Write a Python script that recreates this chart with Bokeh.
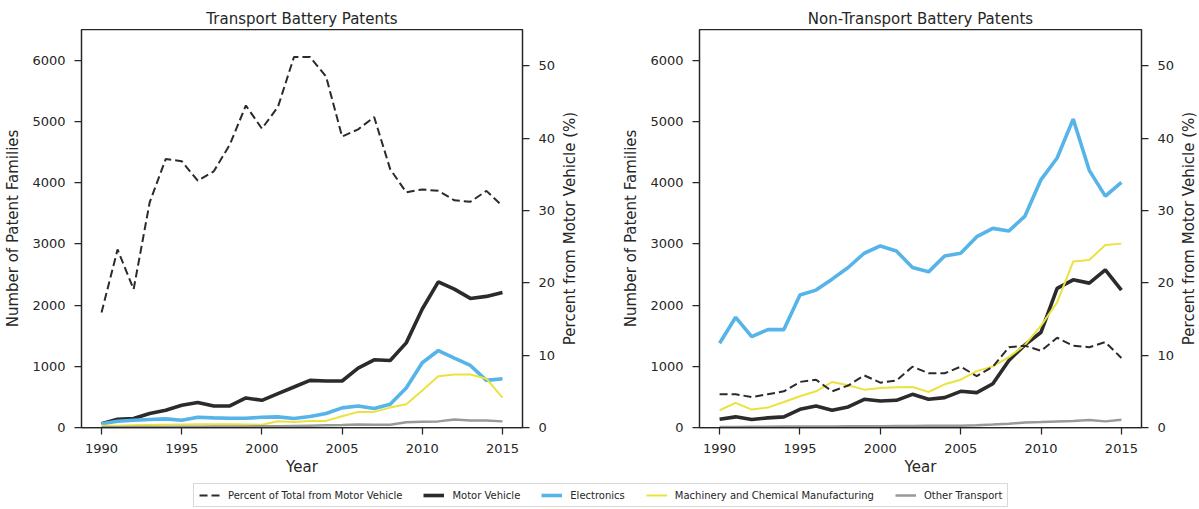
from bokeh.plotting import figure
from bokeh.models import Range1d, LinearAxis, Legend, LegendItem, FixedTicker, Title
from bokeh.layouts import column, row
from bokeh.embed import file_html
from bokeh.resources import INLINE

years = list(range(1990, 2016))

# Transport battery patents
t_motor = [60, 135, 146, 228, 282, 363, 407, 352, 352, 482, 444, 553, 661, 770, 759, 759,
           970, 1106, 1095, 1382, 1935, 2379, 2260, 2108, 2141, 2206]
t_elec = [60, 103, 119, 130, 141, 119, 168, 157, 152, 152, 168, 174, 146, 179, 228, 320,
          352, 309, 379, 645, 1057, 1257, 1133, 1013, 770, 797]
t_mach = [30, 30, 35, 40, 45, 50, 55, 55, 55, 50, 45, 103, 90, 108, 108, 183,
          255, 255, 325, 379, 605, 838, 865, 865, 797, 488]
t_other = [5, 5, 8, 10, 10, 12, 12, 15, 15, 18, 20, 20, 25, 30, 35, 40,
           50, 45, 45, 85, 95, 100, 130, 115, 115, 100]
t_pct = [15.9, 24.6, 19.1, 31.1, 37.1, 36.8, 34.1, 35.4, 39.1, 44.5, 41.3, 44.3, 51.2, 51.2,
         48.5, 40.2, 41.2, 42.9, 35.7, 32.5, 32.9, 32.7, 31.4, 31.2, 32.7, 30.6]

# Non-transport battery patents
n_elec = [1377, 1800, 1485, 1599, 1599, 2163, 2244, 2423, 2613, 2846, 2965, 2883, 2613, 2542,
          2802, 2846, 3117, 3252, 3209, 3453, 4049, 4401, 5036, 4200, 3778, 4005]
n_mach = [282, 401, 293, 325, 417, 510, 591, 743, 689, 618, 645, 656, 661, 580, 705, 780,
          921, 997, 1149, 1350, 1664, 2043, 2710, 2737, 2981, 3003]
n_motor = [136, 174, 130, 157, 174, 298, 352, 282, 336, 461, 434, 444, 542, 461, 488, 591,
           569, 715, 1095, 1350, 1556, 2271, 2412, 2358, 2574, 2244]
n_other = [10, 10, 12, 12, 15, 15, 18, 18, 20, 20, 22, 25, 25, 28, 28, 30,
           38, 48, 62, 82, 88, 98, 105, 122, 100, 125]
n_pct = [4.6, 4.6, 4.2, 4.6, 5.0, 6.3, 6.6, 5.0, 5.8, 7.2, 6.2, 6.5, 8.4, 7.5, 7.5, 8.4,
         7.1, 8.4, 11.1, 11.3, 10.6, 12.4, 11.3, 11.1, 11.8, 9.6]

titles = ["Transport Battery Patents", "Non-Transport Battery Patents"]
labels = ["Percent of Total from Motor Vehicle", "Motor Vehicle", "Electronics",
          "Machinery and Chemical Manufacturing", "Other Transport"]
pct_axis_label = "Percent from Motor Vehicle (%)"
x_ticks = [1990, 1995, 2000, 2005, 2010, 2015]
y_ticks = [0, 1000, 2000, 3000, 4000, 5000, 6000]
pct_ticks = [0, 10, 20, 30, 40, 50]

FONT = "DejaVu Sans"
TXT = "#262626"
C_MOTOR = "#2b2b2b"
C_ELEC = "#56b4e9"
C_MACH = "#ece23e"
C_OTHER = "#999999"

W_MOTOR, W_ELEC, W_MACH, W_OTHER, W_PCT = 3.6, 3.6, 2.0, 2.5, 2.0
DASH = "8 4"
H = 478
TOP, BOTTOM = 29, 49


def style_axis(ax, label_standoff=7):
    ax.axis_line_color = TXT
    ax.axis_line_width = 1.25
    ax.major_tick_line_color = TXT
    ax.major_tick_line_width = 1.25
    ax.major_tick_in = 0
    ax.major_tick_out = 7
    ax.minor_tick_line_color = None
    ax.major_label_text_font = FONT
    ax.major_label_text_font_size = "13px"
    ax.major_label_text_color = TXT
    ax.major_label_standoff = 9
    ax.axis_label_text_font = FONT
    ax.axis_label_text_font_size = "15px"
    ax.axis_label_text_font_style = "normal"
    ax.axis_label_text_color = TXT
    ax.axis_label_standoff = label_standoff


def make_panel(title, motor, elec, mach, other, pct, width, bl, br):
    p = figure(width=width, height=H, output_backend="svg", toolbar_location=None,
               x_range=Range1d(1988.75, 2016.25), y_range=Range1d(0, 6500),
               min_border_left=bl, min_border_right=br, min_border_top=TOP,
               min_border_bottom=BOTTOM)
    p.title.text = title
    p.title.align = "center"
    p.title.text_font = FONT
    p.title.text_font_size = "15px"
    p.title.text_font_style = "normal"
    p.title.text_color = TXT
    p.title.standoff = 3
    p.xgrid.visible = False
    p.ygrid.visible = False
    p.outline_line_color = TXT
    p.outline_line_width = 1.25
    p.outline_line_alpha = 1
    p.background_fill_color = "white"
    p.border_fill_color = "white"

    p.extra_y_ranges = {"pct": Range1d(0, 55)}
    rax = LinearAxis(y_range_name="pct", ticker=FixedTicker(ticks=pct_ticks))
    style_axis(rax, 5)
    p.add_layout(rax, "right")

    p.xaxis.axis_label = "Year"
    p.xaxis.ticker = FixedTicker(ticks=x_ticks)
    p.yaxis[0].axis_label = "Number of Patent Families"
    p.yaxis[0].ticker = FixedTicker(ticks=y_ticks)
    style_axis(p.xaxis[0], 2)
    style_axis(p.yaxis[0], 7)

    p.line(years, motor, line_color=C_MOTOR, line_width=W_MOTOR)
    p.line(years, elec, line_color=C_ELEC, line_width=W_ELEC)
    p.line(years, mach, line_color=C_MACH, line_width=W_MACH)
    p.line(years, other, line_color=C_OTHER, line_width=W_OTHER)
    p.line(years, pct, y_range_name="pct", line_color=C_MOTOR, line_width=W_PCT,
           line_dash=DASH)
    return p


def label_strip(width):
    # narrow strip carrying the right-axis title, reading bottom-to-top
    s = figure(width=width, height=H, output_backend="svg", toolbar_location=None,
               x_range=Range1d(0, 1), y_range=Range1d(0, 1), x_axis_type=None,
               y_axis_type=None, min_border_left=0, min_border_right=0,
               min_border_top=TOP, min_border_bottom=BOTTOM, outline_line_color=None)
    s.xgrid.visible = False
    s.ygrid.visible = False
    t = Title(text=pct_axis_label, align="center", text_font=FONT,
              text_font_size="15px", text_font_style="normal", text_color=TXT,
              standoff=0)
    s.add_layout(t, "left")
    return s


p1 = make_panel(titles[0], t_motor, t_elec, t_mach, t_other, t_pct, 558, 81, 36)
s1 = label_strip(22)
p2 = make_panel(titles[1], n_motor, n_elec, n_mach, n_other, n_pct, 597, 119, 36)
s2 = label_strip(22)

# legend strip: its renderers lie outside the visible range, only the legend shows
pl = figure(width=1199, height=31, output_backend="svg", toolbar_location=None,
            x_range=Range1d(0, 1), y_range=Range1d(0, 1), x_axis_type=None,
            y_axis_type=None, min_border=0, outline_line_color=None)
pl.xgrid.visible = False
pl.ygrid.visible = False
r0 = pl.line(years, t_pct, line_color=C_MOTOR, line_width=W_PCT, line_dash=DASH)
r1 = pl.line(years, t_motor, line_color=C_MOTOR, line_width=W_MOTOR)
r2 = pl.line(years, t_elec, line_color=C_ELEC, line_width=W_ELEC)
r3 = pl.line(years, t_mach, line_color=C_MACH, line_width=W_MACH)
r4 = pl.line(years, t_other, line_color=C_OTHER, line_width=W_OTHER)
legend = Legend(items=[LegendItem(label=labels[i], renderers=[r])
                       for i, r in enumerate([r0, r1, r2, r3, r4])],
                orientation="horizontal", location=(193, 2))
legend.label_text_font = FONT
legend.label_text_font_size = "10px"
legend.label_text_color = TXT
legend.label_standoff = 8
legend.glyph_width = 21
legend.glyph_height = 12
legend.label_height = 12
legend.spacing = 21
legend.padding = 5
legend.margin = 0
legend.border_line_color = "#b3b3b3"
legend.border_line_width = 1
legend.background_fill_alpha = 1
pl.add_layout(legend, "center")

layout = column(row(p1, s1, p2, s2), pl)
open("out.html", "w").write(file_html(layout, INLINE))
